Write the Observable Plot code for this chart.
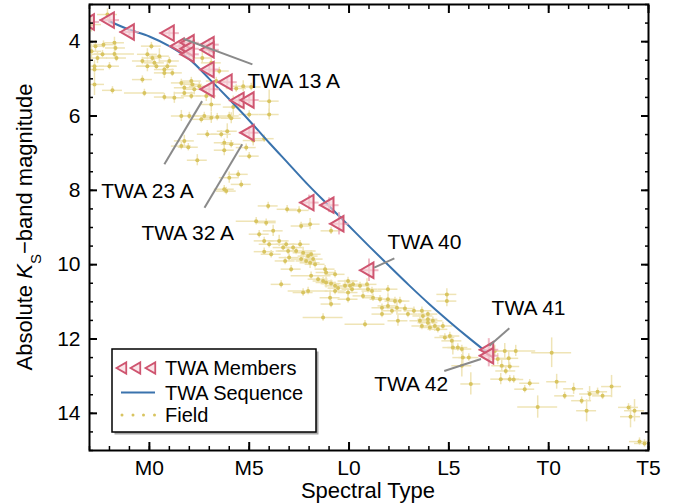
<!DOCTYPE html>
<html>
<head>
<meta charset="utf-8">
<script src="https://cdn.jsdelivr.net/npm/d3@7"></script>
<script src="https://cdn.jsdelivr.net/npm/@observablehq/plot@0.6"></script>
<style>
  html, body { margin: 0; padding: 0; background: white; }
  svg { display: block; }
</style>
</head>
<body>
<div id="chart"></div>
<script>
// Spectral type numeric code: M0 = 0, L0 = 10, T0 = 20
const xTickValues = [0, 5, 10, 15, 20, 25];
const xTickLabels = ["M0", "M5", "L0", "L5", "T0", "T5"];
const xMinorTicks = d3.range(-3, 26, 1);
const yTickValues = [4, 6, 8, 10, 12, 14];
const yMinorTicks = d3.range(3, 15.01, 0.5);

// TWA members
const memberSpT = [-3.0, -2.0, -1.0, 1.0, 1.5, 2.0, 2.0, 2.0, 3.0, 3.0, 3.0, 3.9, 3.0, 4.5, 5.0, 5.0, 8.0, 9.0, 9.5, 11.0, 17.0, 17.0];
const memberMag = [3.47, 3.42, 3.74, 3.77, 4.12, 4.03, 4.19, 4.34, 4.08, 4.22, 4.75, 5.09, 5.28, 5.58, 5.57, 6.45, 8.33, 8.40, 8.90, 10.15, 12.29, 12.45];
const memberSpTErr = [0.5, 0.5, 0.5, 0.5, 0.5, 0.5, 0.5, 0.5, 0.5, 0.5, 0.5, 0.5, 0.5, 0.5, 0.5, 0.5, 0.5, 0.5, 0.5, 0.5, 0.5, 0.5];
const memberMagErr = [0.1, 0.1, 0.1, 0.1, 0.15, 0.15, 0.1, 0.1, 0.15, 0.15, 0.1, 0.1, 0.1, 0.15, 0.1, 0.15, 0.2, 0.2, 0.3, 0.3, 0.3, 0.3];

// TWA sequence curve
const seqSpT = [-2, -1, 0, 1, 2, 3, 4, 5, 6, 7, 8, 9, 10, 11, 12, 13, 14, 15, 16, 17];
const seqMag = [3.45, 3.68, 3.86, 4.12, 4.47, 5.0, 5.55, 6.12, 6.72, 7.30, 7.88, 8.42, 8.96, 9.50, 10.03, 10.55, 11.05, 11.52, 11.97, 12.40];

// Field objects: [spectral type, M_Ks, spt err, mag err]
const field = [
[-2.1,3.27,0.5,0.15],[-2.9,3.54,0.5,0.2],[-2.7,4.12,0.5,0.15],[-2.3,4.08,0.5,0.1],[-1.75,4.03,0.5,0.15],
[-1.7,4.17,0.5,0.1],[-2.9,4.26,0.5,0.2],[-2.35,4.34,0.5,0.1],[-1.75,4.33,1.0,0.1],[-2.6,4.44,0.5,0.15],
[-2.0,4.66,0.5,0.1],[-2.75,4.66,0.5,0.15],[-2.75,4.75,0.5,0.1],[-1.65,4.44,0.5,0.1],[-2.75,5.15,0.5,0.3],
[-1.85,5.31,0.5,0.1],[-0.35,4.52,0.5,0.1],[-0.1,4.34,0.5,0.15],[0.1,4.12,0.5,0.1],[0.15,4.44,0.5,0.1],
[-0.1,4.66,0.5,0.15],[0.25,4.57,0.5,0.1],[0.35,4.66,1.0,0.1],[0.5,4.39,0.5,0.2],[0.75,4.75,0.5,0.1],
[0.75,4.84,0.5,0.15],[0.9,4.66,0.5,0.1],[1.0,4.52,0.5,0.1],[1.15,4.84,0.5,0.1],[1.6,5.11,0.5,0.1],
[1.75,5.24,0.5,0.15],[2.1,5.06,0.5,0.1],[2.15,5.15,0.5,0.1],[1.75,5.38,0.5,0.1],[2.25,5.28,0.5,0.15],
[2.5,5.2,0.5,0.1],[-0.35,5.02,0.5,0.1],[1.25,5.51,0.5,0.15],[-0.25,5.38,1.0,0.1],[0.75,5.49,0.5,0.1],
[2.1,5.46,0.5,0.1],[1.6,6.0,0.5,0.15],[2.0,6.0,0.5,0.1],[2.6,6.09,0.5,0.1],[2.75,6.0,0.5,0.1],
[3.1,6.05,0.5,0.15],[2.9,6.49,0.5,0.1],[1.75,6.67,0.5,0.15],[1.6,6.81,0.5,0.1],[1.95,6.84,0.5,0.1],
[2.4,7.19,0.5,0.15],[2.85,5.46,0.5,0.15],[3.1,5.69,0.5,0.2],[3.4,6.03,0.5,0.1],[4.0,6.0,0.5,0.1],
[4.1,6.06,0.5,0.15],[4.2,5.76,0.5,0.3],[5.0,5.96,0.5,0.1],[6.0,5.6,0.5,0.3],[6.0,5.96,0.5,0.15],
[3.6,6.49,0.5,0.1],[3.9,6.41,0.5,0.2],[3.75,6.72,0.5,0.1],[4.1,6.76,0.5,0.1],[3.75,6.92,0.5,0.15],
[4.85,6.85,0.5,0.1],[5.2,6.66,0.5,0.15],[5.75,6.61,0.5,0.1],[5.0,7.08,0.5,0.1],[4.45,7.57,0.5,0.1],
[4.0,7.66,0.5,0.15],[4.6,7.84,0.5,0.1],[3.75,7.97,0.5,0.1],[3.85,8.02,0.5,0.1],[5.95,8.42,0.5,0.1],
[6.9,8.51,0.5,0.1],[2.65,4.44,0.5,0.15],[3.1,4.57,0.5,0.1],[3.35,5.06,0.5,0.1],[3.5,4.79,0.5,0.1],
[4.35,5.26,0.5,0.1],[4.7,5.2,0.5,0.15],[5.1,5.22,0.5,0.1],[7.5,8.54,0.5,0.1],[7.6,8.96,0.5,0.1],
[8.05,8.91,0.5,0.15],[9.1,9.09,0.5,0.1],[5.35,8.83,1.0,0.1],[5.85,8.87,0.5,0.1],[6.2,9.09,0.5,0.15],
[5.5,9.18,0.5,0.1],[5.75,9.36,0.5,0.1],[6.0,9.45,0.5,0.1],[6.5,9.36,0.5,0.15],[6.7,9.54,0.5,0.1],
[6.85,9.45,0.5,0.1],[6.95,9.63,0.5,0.1],[7.2,9.54,0.5,0.1],[7.35,9.63,1.0,0.1],[7.55,9.45,0.5,0.1],
[7.7,9.68,0.5,0.15],[6.8,9.9,0.5,0.1],[7.1,10.12,0.5,0.1],[7.6,9.85,0.5,0.1],[7.95,9.77,0.5,0.1],
[8.1,9.72,0.5,0.1],[8.2,9.85,0.5,0.1],[8.05,9.95,0.5,0.15],[8.3,9.99,0.5,0.1],[7.85,9.9,0.5,0.1],
[8.8,10.12,0.5,0.1],[8.85,10.21,0.5,0.1],[9.3,10.26,0.5,0.1],[8.1,10.3,1.0,0.1],[8.45,10.39,0.5,0.1],
[8.7,10.44,0.5,0.1],[8.85,10.48,0.5,0.15],[9.1,10.51,0.5,0.1],[9.3,10.57,0.5,0.1],[9.45,10.63,0.5,0.1],
[9.95,10.44,0.5,0.1],[9.8,10.57,0.5,0.15],[10.05,10.57,0.5,0.1],[10.15,10.66,0.5,0.1],[10.2,10.53,0.5,0.1],
[10.55,10.57,0.5,0.1],[10.9,10.53,0.5,0.15],[10.95,10.66,0.5,0.1],[7.95,10.71,1.0,0.1],[9.3,10.71,0.5,0.1],
[9.95,10.75,0.5,0.1],[11.15,10.71,0.5,0.1],[9.05,10.89,0.5,0.2],[9.95,10.93,0.5,0.1],[9.1,11.06,0.5,0.1],
[10.7,10.84,0.5,0.1],[11.2,10.89,0.5,0.1],[11.55,10.93,0.5,0.1],[11.95,10.66,0.5,0.1],[11.95,10.93,0.5,0.15],
[12.3,10.98,0.5,0.1],[11.65,11.16,0.5,0.1],[11.95,11.11,0.5,0.1],[12.4,11.16,0.5,0.2],[12.55,10.98,0.5,0.1],
[12.8,11.18,0.5,0.1],[11.65,11.33,0.5,0.1],[12.15,11.24,0.5,0.1],[12.45,11.51,0.5,0.15],[8.7,11.42,1.0,0.1],
[10.8,11.6,1.0,0.1],[13.65,11.24,0.5,0.1],[13.7,11.38,0.5,0.1],[13.95,11.33,0.5,0.1],[13.95,11.47,0.5,0.15],
[13.55,11.51,0.5,0.1],[13.95,11.56,0.5,0.1],[14.2,11.51,0.5,0.1],[14.3,11.65,0.5,0.15],[13.65,11.65,0.5,0.1],
[14.05,11.69,0.5,0.1],[14.45,11.74,0.5,0.1],[14.7,11.65,0.5,0.1],[14.9,10.8,0.5,0.15],[14.9,10.98,0.5,0.15],
[14.8,11.96,0.5,0.1],[15.05,11.92,0.5,0.1],[15.15,12.05,0.5,0.15],[15.2,12.23,0.5,0.2],[15.45,12.23,0.5,0.1],
[15.65,12.27,0.5,0.1],[15.7,12.5,0.5,0.2],[15.65,12.72,0.5,0.3],[16.0,12.5,0.5,0.1],[5.75,9.65,0.5,0.1],
[6.1,9.72,0.5,0.1],[7.0,9.81,0.5,0.1],[6.6,10.53,0.5,0.1],[7.7,10.75,0.5,0.1],[12.95,11.33,0.5,0.1],
[13.25,11.24,0.5,0.1],[16.1,13.21,0.5,0.3],[17.3,12.32,0.5,0.15],[17.45,12.54,0.5,0.15],[17.8,12.32,0.5,0.2],
[18.35,12.32,1.0,0.15],[18.0,12.52,0.5,0.2],[17.65,12.72,0.5,0.15],[17.85,12.86,0.5,0.1],[18.05,12.74,0.5,0.1],
[17.6,13.08,0.5,0.15],[18.05,13.08,0.5,0.1],[18.25,13.09,0.5,0.1],[18.8,13.35,0.5,0.1],[19.05,13.19,0.5,0.1],
[19.45,13.83,1.0,0.3],[20.15,12.37,1.0,0.4],[20.4,13.15,0.5,0.2],[20.8,13.53,0.5,0.1],[21.25,13.34,0.5,0.15],
[21.65,13.66,0.5,0.1],[21.9,13.93,0.5,0.3],[22.05,13.48,0.5,0.2],[22.45,13.42,0.5,0.1],[22.7,13.53,0.5,0.1],
[23.15,13.28,0.5,0.3],[24.0,13.84,0.5,0.1],[24.1,14.09,0.5,0.3],[24.3,13.93,0.5,0.3],[24.55,14.76,0.5,0.1],
[24.8,14.81,0.5,0.1]
];

// Annotations
const annoLabels = ["TWA 13 A", "TWA 23 A", "TWA 32 A", "TWA 40", "TWA 41", "TWA 42"];
const annoTextSpT = [4.91, -2.41, -0.4, 11.93, 17.14, 11.26];
const annoTextMag = [5.06, 8.02, 9.15, 9.41, 11.16, 13.21];
const annoLineSpT1 = [1.70, 2.64, 4.65, 11.26, 17.03, 14.77];
const annoLineMag1 = [3.92, 5.60, 6.76, 10.08, 12.18, 12.86];
const annoLineSpT2 = [5.16, 0.75, 2.76, 12.27, 18.03, 16.61];
const annoLineMag2 = [4.61, 7.30, 8.47, 9.83, 11.71, 12.54];

// Legend entries
const legendLabels = ["TWA Members", "TWA Sequence", "Field"];

// ---- build tables ----
const fieldRows = field.map(([s, m, ds, dm]) => ({s, m, ds, dm}));
const members = memberSpT.map((s, i) => ({s, m: memberMag[i], ds: memberSpTErr[i], dm: memberMagErr[i]}));
const seq = seqSpT.map((s, i) => ({s, m: seqMag[i]}));
const annos = annoLabels.map((t, i) => ({
  t, tx: annoTextSpT[i], ty: annoTextMag[i],
  x1: annoLineSpT1[i], y1: annoLineMag1[i], x2: annoLineSpT2[i], y2: annoLineMag2[i]
}));

const FONT = "'Liberation Sans', Arial, Helvetica, sans-serif";
const fieldErrColor = "#efe4b6";
const fieldDotColor = "#d8c460";
const memberErrColor = "#eba9b7";
const memberStroke = "#cf5570";
const memberFill = "#f6d3da";
const seqColor = "#3a73ad";

const xLabelFor = d => xTickLabels[xTickValues.indexOf(d)];

const svg = Plot.plot({
  width: 678,
  height: 503,
  marginLeft: 89,
  marginRight: 30,
  marginTop: 4,
  marginBottom: 53,
  style: {fontFamily: FONT, fontSize: "21px", background: "white", color: "black"},
  x: {domain: [-3, 25]},
  y: {domain: [3, 15], reverse: true},
  marks: [
    Plot.ruleY(fieldRows, {y: "m", x1: d => d.s - d.ds, x2: d => d.s + d.ds, stroke: fieldErrColor, strokeWidth: 1.5, clip: true}),
    Plot.ruleX(fieldRows, {x: "s", y1: d => d.m - d.dm, y2: d => d.m + d.dm, stroke: fieldErrColor, strokeWidth: 1.5, clip: true}),
    Plot.dot(fieldRows, {x: "s", y: "m", r: 2, fill: fieldDotColor, stroke: "none", clip: true}),
    Plot.line(seq, {x: "s", y: "m", curve: "catmull-rom", stroke: seqColor, strokeWidth: 2}),
    Plot.ruleY(members, {y: "m", x1: d => d.s - d.ds, x2: d => d.s + d.ds, stroke: memberErrColor, strokeWidth: 2, strokeOpacity: 0.8, clip: true}),
    Plot.ruleX(members, {x: "s", y1: d => d.m - d.dm, y2: d => d.m + d.dm, stroke: memberErrColor, strokeWidth: 2, strokeOpacity: 0.8, clip: true}),
    Plot.dot(members, {x: "s", y: "m", symbol: "triangle", rotate: -90, r: 5.7, fill: memberFill, fillOpacity: 0.6, stroke: memberStroke, strokeWidth: 2, clip: true}),
    Plot.link(annos, {x1: "x1", y1: "y1", x2: "x2", y2: "y2", stroke: "#8a8a8a", strokeWidth: 2}),
    Plot.text(annos, {x: "tx", y: "ty", text: "t", textAnchor: "start", fontSize: 21, fill: "black"}),
    Plot.frame({stroke: "black", strokeWidth: 2}),
    Plot.axisX(xMinorTicks, {anchor: "bottom", tickSize: -4, strokeWidth: 1.5, tickFormat: () => "", label: null}),
    Plot.axisX(xTickValues, {anchor: "bottom", tickSize: -8, strokeWidth: 2, tickPadding: 18, tickFormat: xLabelFor, label: null, fontSize: 21}),
    Plot.axisX(xMinorTicks, {anchor: "top", tickSize: -4, strokeWidth: 1.5, tickFormat: () => "", label: null}),
    Plot.axisX(xTickValues, {anchor: "top", tickSize: -8, strokeWidth: 2, tickFormat: () => "", label: null}),
    Plot.axisY(yMinorTicks, {anchor: "left", tickSize: -4, strokeWidth: 1.5, tickFormat: () => "", label: null}),
    Plot.axisY(yTickValues, {anchor: "left", tickSize: -8, strokeWidth: 2, tickPadding: 17, tickFormat: d => String(d), label: null, fontSize: 21}),
    Plot.axisY(yMinorTicks, {anchor: "right", tickSize: -4, strokeWidth: 1.5, tickFormat: () => "", label: null}),
    Plot.axisY(yTickValues, {anchor: "right", tickSize: -8, strokeWidth: 2, tickFormat: () => "", label: null})
  ]
});

const root = d3.select(svg);

// Axis titles
root.append("text")
  .attr("x", 368).attr("y", 498)
  .attr("text-anchor", "middle")
  .style("font-family", FONT).style("font-size", "22px")
  .text("Spectral Type");

const ylab = root.append("text")
  .attr("transform", "translate(32,227) rotate(-90)")
  .attr("text-anchor", "middle")
  .style("font-family", FONT).style("font-size", "22px");
ylab.append("tspan").text("Absolute ");
ylab.append("tspan").style("font-style", "italic").text("K");
ylab.append("tspan").attr("baseline-shift", "sub").style("font-size", "15px").text("S");
ylab.append("tspan").text("\u2212band magnitude");

// Legend
const lg = root.append("g").attr("text-anchor", "start");
lg.append("rect").attr("x", 114.5).attr("y", 351.5).attr("width", 204).attr("height", 83).attr("fill", "#a8a8a8");
lg.append("rect").attr("x", 112).attr("y", 349).attr("width", 204).attr("height", 83)
  .attr("fill", "white").attr("stroke", "black").attr("stroke-width", 1.5);
const tri = d3.symbol(d3.symbolTriangle, 55)();
[123, 137, 152].forEach(x => {
  lg.append("path").attr("d", tri)
    .attr("transform", `translate(${x},368) rotate(-90)`)
    .attr("fill", memberFill).attr("fill-opacity", 0.6)
    .attr("stroke", memberStroke).attr("stroke-width", 1.8);
});
lg.append("line").attr("x1", 121).attr("x2", 155).attr("y1", 392.5).attr("y2", 392.5)
  .attr("stroke", seqColor).attr("stroke-width", 2);
[122, 133, 143.5, 154.5].forEach(x => {
  lg.append("circle").attr("cx", x).attr("cy", 415).attr("r", 1.5).attr("fill", fieldDotColor);
});
const legendY = [368, 392.5, 415];
legendLabels.forEach((t, i) => {
  lg.append("text").attr("x", 165).attr("y", legendY[i]).attr("dy", "0.35em")
    .attr("text-anchor", "start")
    .style("font-family", FONT).style("font-size", "20px").text(t);
});

document.getElementById("chart").appendChild(svg);
</script>
</body>
</html>
